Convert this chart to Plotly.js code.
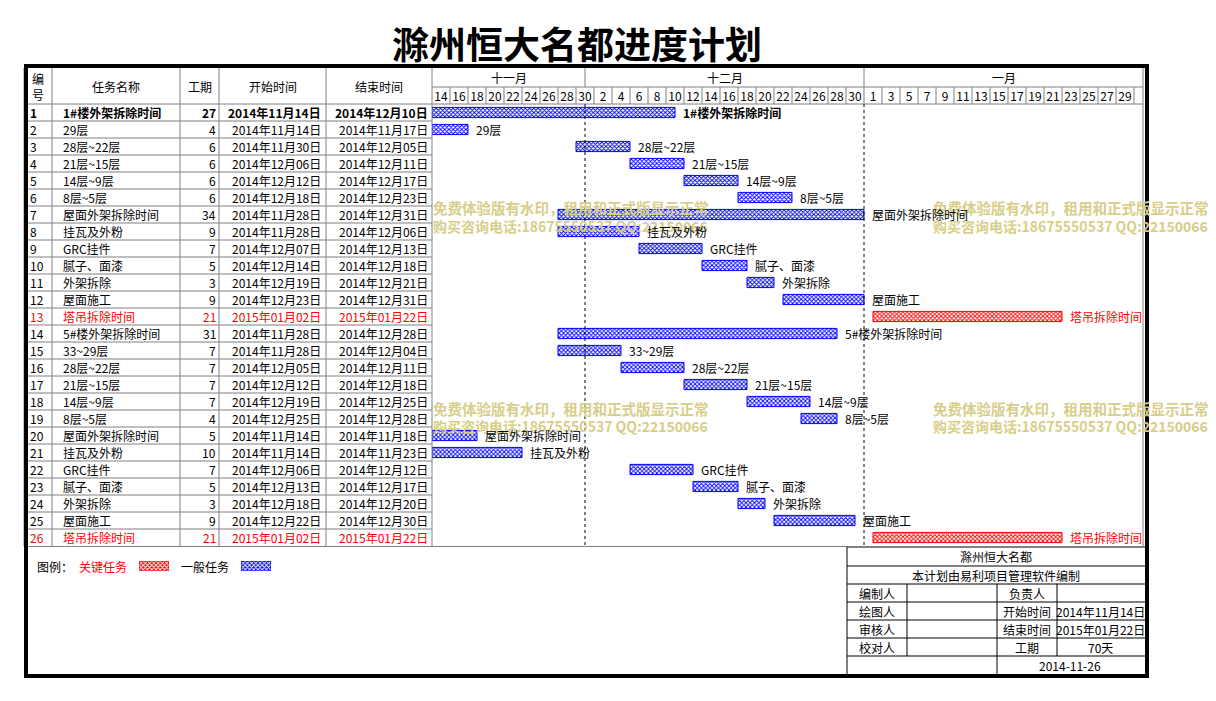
<!DOCTYPE html>
<html>
<head>
<meta charset="utf-8">
<script src="https://cdn.plot.ly/plotly-3.0.1.min.js"></script>
<style>html,body{margin:0;padding:0;background:#fff;}#chart{width:1216px;height:701px;}</style>
</head>
<body>
<div id="chart"></div>
<script>
// ---------------- data ----------------
const chartTitle = '滁州恒大名都进度计划';
const taskIds = ['1','2','3','4','5','6','7','8','9','10','11','12','13','14','15','16','17','18','19','20','21','22','23','24','25','26'];
const taskNames = ['1#楼外架拆除时间','29层','28层~22层','21层~15层','14层~9层','8层~5层','屋面外架拆除时间','挂瓦及外粉','GRC挂件','腻子、面漆','外架拆除','屋面施工','塔吊拆除时间','5#楼外架拆除时间','33~29层','28层~22层','21层~15层','14层~9层','8层~5层','屋面外架拆除时间','挂瓦及外粉','GRC挂件','腻子、面漆','外架拆除','屋面施工','塔吊拆除时间'];
const durations = [27,4,6,6,6,6,34,9,7,5,3,9,21,31,7,7,7,7,4,5,10,7,5,3,9,21];
const startDates = ['2014-11-14','2014-11-14','2014-11-30','2014-12-06','2014-12-12','2014-12-18','2014-11-28','2014-11-28','2014-12-07','2014-12-14','2014-12-19','2014-12-23','2015-01-02','2014-11-28','2014-11-28','2014-12-05','2014-12-12','2014-12-19','2014-12-25','2014-11-14','2014-11-14','2014-12-06','2014-12-13','2014-12-18','2014-12-22','2015-01-02'];
const endDates = ['2014-12-10','2014-11-17','2014-12-05','2014-12-11','2014-12-17','2014-12-23','2014-12-31','2014-12-06','2014-12-13','2014-12-18','2014-12-21','2014-12-31','2015-01-22','2014-12-28','2014-12-04','2014-12-11','2014-12-18','2014-12-25','2014-12-28','2014-11-18','2014-11-23','2014-12-12','2014-12-17','2014-12-20','2014-12-30','2015-01-22'];
const criticalTasks = ['13','26'];
const summaryTasks = ['1'];
const tableHeaders = ['编<br>号','任务名称','工期','开始时间','结束时间'];
const monthLabels = ['十一月','十二月','一月'];
const monthStartDates = ['2014-11-14','2014-12-01','2015-01-01'];
const timelineEnd = '2015-02-01';
const dayTickLabels = ['14','16','18','20','22','24','26','28','30','2','4','6','8','10','12','14','16','18','20','22','24','26','28','30','1','3','5','7','9','11','13','15','17','19','21','23','25','27','29'];
const legendTitle = '图例：';
const legendLabels = ['关键任务','一般任务'];
const infoProject = '滁州恒大名都';
const infoSoftware = '本计划由易利项目管理软件编制';
const infoLabelsLeft = ['编制人','绘图人','审核人','校对人'];
const infoLabelsRight = ['负责人','开始时间','结束时间','工期'];
const infoValuesRight = ['','2014年11月14日','2015年01月22日','70天'];
const infoDate = '2014-11-26';
const watermarkLines = ['免费体验版有水印，租用和正式版显示正常','购买咨询电话:18675550537 QQ:22150066'];

// ---------------- helpers ----------------
const W = 1216, H = 701;
const PX = x => x / W;
const PY = y => 1 - y / H;
const FONT = "'Noto Sans CJK SC', 'Noto Sans', sans-serif";
const GRID = '#808080';
const BLUE = '#0000ff', RED = '#ff0000';
const origin = Date.UTC(2014, 10, 14);
function dayOffset(s) { const p = s.split('-').map(Number); return (Date.UTC(p[0], p[1]-1, p[2]) - origin) / 864e5; }
function fmtDate(s) { const p = s.split('-'); return p[0] + '年' + p[1] + '月' + p[2] + '日'; }
const isCrit = taskIds.map(id => criticalTasks.includes(id));
const isSum = taskIds.map(id => summaryTasks.includes(id));
const rowY = taskIds.map((_, i) => i + 1);
const xMax = dayOffset(timelineEnd);

// pixel layout of the sheet
const GX0 = 432, GX1 = 1143;          // gantt area
const TOP = 68, MID = 87, HEAD = 104, BOT = 546;
const colEdges = [24, 52, 180, 219, 326, 432];

const shapes = [];
function pline(x0, y0, x1, y1, color, width, dash) {
  shapes.push({type:'line', xref:'paper', yref:'paper', x0:PX(x0), y0:PY(y0), x1:PX(x1), y1:PY(y1), line:{color:color, width:width||1, dash:dash||'solid'}, layer:'above'});
}
function xline(xd, y0, y1, color, dash) {
  shapes.push({type:'line', xref:'x', yref:'paper', x0:xd, x1:xd, y0:PY(y0), y1:PY(y1), line:{color:color, width:1, dash:dash||'solid'}, layer:'above'});
}
// table grid
pline(24, HEAD, GX1, HEAD, GRID);
pline(GX0, MID, GX1, MID, GRID);
rowY.slice(0, -1).forEach(r => shapes.push({type:'line', xref:'paper', yref:'y', x0:PX(24), x1:PX(GX0), y0:r+0.5, y1:r+0.5, line:{color:GRID, width:1}}));
pline(24, BOT + 0.5, 847, BOT + 0.5, GRID);
colEdges.forEach(x => pline(x, TOP, x, BOT, GRID));
pline(GX1, TOP, GX1, BOT, GRID);
// month separators and dotted month lines
monthStartDates.slice(1).forEach(d => { const o = dayOffset(d); xline(o, TOP, MID, GRID); xline(o, HEAD, 547, '#000000', 'dot'); });
// day cell separators
dayTickLabels.forEach((_, i) => xline((i + 1) * 2, MID, HEAD, GRID));
// info box
const IX0 = 847, IX1 = 1146;
pline(IX0, 547, IX1, 547, '#000000');
[566, 584, 602, 620, 638, 656].forEach(y => pline(IX0, y, IX1, y, '#000000'));
pline(IX0, 547, IX0, 676, '#000000');
pline(907, 584, 907, 656, '#000000');
pline(997, 584, 997, 676, '#000000');
pline(1057, 584, 1057, 656, '#000000');
// outer thick border
shapes.push({type:'rect', xref:'paper', yref:'paper', x0:PX(26), x1:PX(1147), y0:PY(66), y1:PY(676), line:{color:'#000000', width:4}, fillcolor:'rgba(0,0,0,0)', layer:'above'});

// ---------------- annotations ----------------
const ann = [];
function txt(text, x, y, anchor, opts) {
  opts = opts || {};
  ann.push(Object.assign({text:text, xref:'paper', yref:'paper', x:PX(x), y:PY(y), xanchor:anchor, yanchor:'middle', showarrow:false, borderpad:0, borderwidth:0,
    font:{family:FONT, size:opts.size||12, color:opts.color||'#000000'}}, opts.extra||{}));
}
// watermarks (drawn first)
const wmSizes = [14.5, 14];
[[433, 208], [933, 208], [433, 408], [933, 408]].forEach(p => {
  watermarkLines.forEach((line, k) => txt('<b>' + line + '</b>', p[0], p[1] + k * 18, 'left', {size:wmSizes[k], color:'#d7ce88'}));
});
// title
txt('<b>' + chartTitle + '</b>', 577, 43, 'center', {size:37});
// table header
const headCenters = [38, 116, 199.5, 272.5, 379];
tableHeaders.forEach((h, i) => txt(h, headCenters[i], 86, 'center', {size:12}));
// month labels
monthLabels.forEach((m, i) => {
  const a = dayOffset(monthStartDates[i]);
  const b = i + 1 < monthStartDates.length ? dayOffset(monthStartDates[i + 1]) : xMax;
  ann.push({text:m, xref:'x', yref:'paper', x:(a + b) / 2, y:PY(77.5), xanchor:'center', yanchor:'middle', showarrow:false, font:{family:FONT, size:12, color:'#000'}});
});
// table rows
function rowTxt(text, x, r, anchor, i) {
  const t = isSum[i] ? '<b>' + text + '</b>' : text;
  ann.push({text:t, xref:'paper', yref:'y', x:PX(x), y:r, xanchor:anchor, yanchor:'middle', showarrow:false, borderpad:0, borderwidth:0,
    font:{family:FONT, size:12, color:isCrit[i] ? RED : '#000000'}});
}
taskIds.forEach((id, i) => {
  const r = rowY[i];
  rowTxt(id, 30, r, 'left', i);
  rowTxt(taskNames[i], 63, r, 'left', i);
  rowTxt(String(durations[i]), 216, r, 'right', i);
  rowTxt(fmtDate(startDates[i]), 321, r, 'right', i);
  rowTxt(fmtDate(endDates[i]), 428, r, 'right', i);
  // bar label
  ann.push({text:isSum[i] ? '<b>' + taskNames[i] + '</b>' : taskNames[i], xref:'x', yref:'y', x:dayOffset(startDates[i]) + durations[i], y:r,
    xanchor:'left', yanchor:'middle', xshift:8, showarrow:false, borderpad:0, borderwidth:0,
    font:{family:FONT, size:12, color:isCrit[i] ? RED : '#000000'}});
});
// legend
txt(legendTitle, 37, 566, 'left', {size:12});
txt(legendLabels[0], 79, 566, 'left', {size:12, color:RED});
txt(legendLabels[1], 181, 566, 'left', {size:12});
// info box text
txt(infoProject, 996, 556.5, 'center');
txt(infoSoftware, 996, 575, 'center');
infoLabelsLeft.forEach((t, k) => txt(t, 877, 593 + k * 18, 'center'));
infoLabelsRight.forEach((t, k) => txt(t, 1027, 593 + k * 18, 'center'));
infoValuesRight.forEach((t, k) => { if (t) txt(t, 1100, 593 + k * 18, 'center'); });
txt(infoDate, 1070, 665, 'center');

// ---------------- traces ----------------
const PAT = {shape:'x', size:3, solidity:0.5};
function barMarker(col) {
  return {color:col, line:{color:col, width:1}, pattern:Object.assign({fgcolor:'#ffffff', bgcolor:col}, PAT)};
}
const barColors = isCrit.map(c => c ? RED : BLUE);
const traces = [{
  type:'bar', orientation:'h', y:rowY, x:durations, base:startDates.map(dayOffset), width:0.6,
  marker:{color:barColors, line:{color:barColors, width:1}, pattern:Object.assign({fgcolor:'#ffffff', bgcolor:barColors}, PAT)},
  hoverinfo:'skip', showlegend:false, xaxis:'x', yaxis:'y'
}, {
  type:'bar', orientation:'h', y:[0], x:[1], base:[0], width:[1], marker:barMarker(RED), xaxis:'x2', yaxis:'y2', showlegend:false, hoverinfo:'skip'
}, {
  type:'bar', orientation:'h', y:[0], x:[1], base:[0], width:[1], marker:barMarker(BLUE), xaxis:'x3', yaxis:'y3', showlegend:false, hoverinfo:'skip'
}];

const hidden = r => ({range:r, visible:false, fixedrange:true});
const layout = {
  width:W, height:H, margin:{l:0, r:0, t:0, b:0}, paper_bgcolor:'#ffffff', plot_bgcolor:'rgba(0,0,0,0)',
  showlegend:false, bargap:0,
  xaxis:{domain:[PX(GX0), PX(GX1)], range:[0, xMax], side:'top', showgrid:false, zeroline:false, showline:false, ticks:'',
    tickmode:'array', tickvals:dayTickLabels.map((_, i) => i * 2 + 1), ticktext:dayTickLabels,
    tickfont:{family:FONT, size:12, color:'#000'}, fixedrange:true},
  yaxis:{domain:[PY(BOT), PY(HEAD)], range:[rowY.length + 0.5, 0.5], showgrid:false, zeroline:false, showticklabels:false, ticks:'', fixedrange:true},
  xaxis2:Object.assign({domain:[PX(139), PX(169)], anchor:'y2'}, hidden([0, 1])),
  yaxis2:Object.assign({domain:[PY(571), PY(561)], anchor:'x2'}, hidden([-0.5, 0.5])),
  xaxis3:Object.assign({domain:[PX(241), PX(271)], anchor:'y3'}, hidden([0, 1])),
  yaxis3:Object.assign({domain:[PY(571), PY(561)], anchor:'x3'}, hidden([-0.5, 0.5])),
  shapes:shapes, annotations:ann
};
Plotly.newPlot('chart', traces, layout, {staticPlot:true, displayModeBar:false});
</script>
</body>
</html>
